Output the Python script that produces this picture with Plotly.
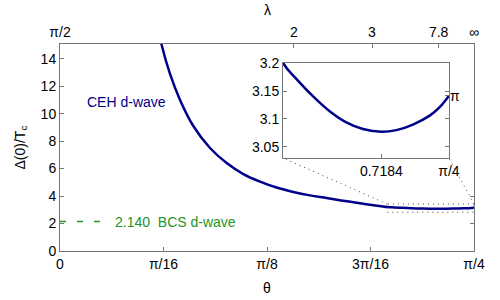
import math
import plotly.graph_objects as go

# ---- data ----
# main panel: Delta(0)/Tc versus theta
theta = [0.1880, 0.1929, 0.2087, 0.2277, 0.2529, 0.2846, 0.3162, 0.3478, 0.3794,
         0.4109, 0.4425, 0.4741, 0.5057, 0.5372, 0.5688, 0.5950,
         0.6216, 0.6342, 0.6506, 0.6672, 0.6837, 0.7002, 0.7184, 0.7333,
         0.7497, 0.7663, 0.7762, 0.7854]
gap_ratio = [15.9, 15.0, 12.9, 11.0, 9.1, 7.5, 6.4, 5.6, 5.05,
             4.62, 4.30, 4.05, 3.86, 3.66, 3.48, 3.33,
             3.199, 3.172, 3.141, 3.114, 3.094, 3.082, 3.077, 3.080,
             3.090, 3.106, 3.121, 3.1416]

bcs_value = 2.140
bcs_theta_span = [0.0, 0.0845]

x_tickvals = [0, math.pi / 16, math.pi / 8, 3 * math.pi / 16, math.pi / 4]
x_ticktext = ["0", "π/16", "π/8", "3π/16", "π/4"]

lam_tickvals = [0, 0.4439, 0.5919, 0.7184, math.pi / 4]
lam_ticktext = ["π/2", "2", "3", "7.8", "∞"]

inset_xrange = [0.621, math.pi / 4]
inset_yrange = [3.030, 3.2003]
inset_xtickvals = [0.7184, math.pi / 4]
inset_xticktext = ["0.7184", "π/4"]
inset_ytickvals = [3.05, 3.1, 3.15, 3.2]
inset_yticktext = ["3.05", "3.1", "3.15", "3.2"]

zoom_box_x = [0.621, math.pi / 4]
zoom_box_y = [2.82, 3.42]

main_xrange = [0, math.pi / 4]
main_yrange = [0, 15.07]
right_mirror_ticks = [0, 2, 4]

# ---- style ----
BLUE = "#00008B"
GREEN = "#22962a"
AXC = "#777777"
DOTC = "#444444"
DOT = "1px,4px"
FONT = "Liberation Sans, Arial, sans-serif"
FS = 14

inset_dom_x = [0.5386, 0.9396]
inset_dom_y = [0.4493, 0.9082]

fig = go.Figure()
fig.add_trace(go.Scatter(x=theta, y=gap_ratio, mode="lines",
                         line=dict(color=BLUE, width=2.5, shape="spline", smoothing=1.0),
                         xaxis="x", yaxis="y", showlegend=False, hoverinfo="skip"))
fig.add_trace(go.Scatter(x=bcs_theta_span, y=[bcs_value, bcs_value], mode="lines",
                         line=dict(color=GREEN, width=1.5, dash="6px,11px"),
                         xaxis="x", yaxis="y", showlegend=False, hoverinfo="skip"))
# invisible traces so overlay axes render
fig.add_trace(go.Scatter(x=main_xrange, y=[None, None], mode="lines",
                         xaxis="x2", yaxis="y", showlegend=False, hoverinfo="skip"))
fig.add_trace(go.Scatter(x=main_xrange, y=[None, None], mode="lines",
                         xaxis="x", yaxis="y5", showlegend=False, hoverinfo="skip"))
# inset
fig.add_trace(go.Scatter(x=theta, y=gap_ratio, mode="lines",
                         line=dict(color=BLUE, width=2.5, shape="spline", smoothing=1.0),
                         xaxis="x3", yaxis="y3", showlegend=False, hoverinfo="skip"))
fig.add_trace(go.Scatter(x=inset_xrange, y=[None, None], mode="lines",
                         xaxis="x3", yaxis="y4", showlegend=False, hoverinfo="skip"))

axis_common = dict(showgrid=False, zeroline=False, showline=True, linecolor=AXC,
                   linewidth=1, ticks="inside", ticklen=4, tickcolor=AXC,
                   automargin=False,
                   tickfont=dict(family=FONT, size=FS, color="black"))

fig.update_layout(
    width=500, height=300,
    margin=dict(l=60, r=26, t=44, b=49, autoexpand=False),
    plot_bgcolor="white", paper_bgcolor="white",
    showlegend=False,
    font=dict(family=FONT, size=FS, color="black"),
    xaxis=dict(axis_common, range=main_xrange, tickvals=x_tickvals, ticktext=x_ticktext,
               anchor="y"),
    xaxis2=dict(axis_common, range=main_xrange, tickvals=lam_tickvals, ticktext=lam_ticktext,
                overlaying="x", side="top", anchor="y"),
    yaxis=dict(axis_common, range=main_yrange, dtick=2, tick0=0, mirror=True),
    yaxis5=dict(axis_common, range=main_yrange, overlaying="y", side="right", anchor="x",
                tickvals=right_mirror_ticks, showticklabels=False),
    xaxis3=dict(axis_common, domain=inset_dom_x, range=inset_xrange, anchor="y3",
                tickvals=inset_xtickvals, ticktext=inset_xticktext, mirror=True),
    yaxis3=dict(axis_common, domain=inset_dom_y, range=inset_yrange, anchor="x3",
                tickvals=inset_ytickvals, ticktext=inset_yticktext, mirror="ticks"),
    yaxis4=dict(axis_common, range=inset_yrange, overlaying="y3", side="right",
                anchor="x3", tickvals=[math.pi], ticktext=["π"], showline=False),
)

# axis titles
fig.add_annotation(x=0.5, y=0, xref="paper", yref="paper", yshift=-37, yanchor="middle",
                   text="θ", showarrow=False, font=dict(family=FONT, size=FS))
fig.add_annotation(x=0.5, y=1, xref="paper", yref="paper", yshift=34, yanchor="middle",
                   text="λ", showarrow=False, font=dict(family=FONT, size=FS))
fig.add_annotation(x=0, y=0.5, xref="paper", yref="paper", xshift=-40,
                   xanchor="center", yanchor="middle",
                   text="Δ(0)/T<sub>c</sub>", textangle=-90, showarrow=False,
                   font=dict(family=FONT, size=FS))

# zoom box (dotted) in main coords
fig.add_shape(type="rect", xref="x", yref="y", x0=zoom_box_x[0], x1=zoom_box_x[1],
              y0=zoom_box_y[0], y1=zoom_box_y[1],
              line=dict(color=DOTC, width=1, dash=DOT))


def dom_to_x(f):
    return main_xrange[0] + f * (main_xrange[1] - main_xrange[0])


def dom_to_y(f):
    return main_yrange[0] + f * (main_yrange[1] - main_yrange[0])


fig.add_shape(type="line", xref="x", yref="y",
              x0=zoom_box_x[0], y0=zoom_box_y[1],
              x1=dom_to_x(inset_dom_x[0]), y1=dom_to_y(inset_dom_y[0]),
              line=dict(color=DOTC, width=1, dash=DOT))
fig.add_shape(type="line", xref="x", yref="y",
              x0=zoom_box_x[1], y0=zoom_box_y[1],
              x1=dom_to_x(inset_dom_x[1]), y1=dom_to_y(inset_dom_y[0]),
              line=dict(color=DOTC, width=1, dash=DOT))

fig.add_annotation(x=0.127, y=10.87, xref="x", yref="y", text="CEH d-wave",
                   showarrow=False, font=dict(family=FONT, size=FS, color=BLUE))
fig.add_annotation(x=0.101, y=bcs_value, xref="x", yref="y", xanchor="left",
                   text="2.140  BCS d-wave", showarrow=False,
                   font=dict(family=FONT, size=FS, color=GREEN))

fig.write_html("out.html", config={"displayModeBar": False},
               post_script="document.body.style.margin='0px';")
